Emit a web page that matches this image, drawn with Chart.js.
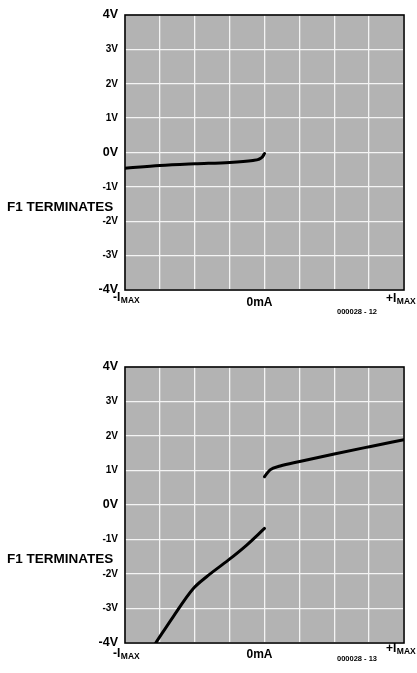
<!DOCTYPE html>
<html>
<head>
<meta charset="utf-8">
<script src="https://cdn.jsdelivr.net/npm/chart.js@4/dist/chart.umd.min.js"></script>
<style>
  html, body { margin: 0; padding: 0; background: #ffffff; }
  canvas { position: absolute; left: 0; }
  #fig12 { top: 0; }
  #fig13 { top: 340px; }
</style>
</head>
<body>
<canvas id="fig12" width="417" height="330"></canvas>
<canvas id="fig13" width="417" height="333"></canvas>
<script>
// Voltage axis ticks (V) and current axis marks (-Imax .. +Imax in eighths)
const voltTicks = [-4, -3, -2, -1, 0, 1, 2, 3, 4];
const currentMarks = [-4, 0, 4];
const currentLabels = ['-I', '0mA', '+I'];
const currentSubs = ['MAX', '', 'MAX'];
const sideTitle = 'F1 TERMINATES';

// Fig. 12: voltage across F1 terminates near 0 mA
const fig12Current = [-4, -3, -2, -1, -0.33, -0.17, -0.07, 0];
const fig12Voltage = [-0.46, -0.38, -0.33, -0.29, -0.23, -0.20, -0.14, -0.03];

// Fig. 13: two branches, negative and positive current
const fig13LowCurrent = [-3.12, -2.62, -2.04, -1.66, -1.04, -0.51, 0];
const fig13LowVoltage = [-4.0, -3.24, -2.42, -2.08, -1.60, -1.16, -0.68];
const fig13HighCurrent = [0, 0.16, 0.45, 1.01, 2.0, 3.01, 4.0];
const fig13HighVoltage = [0.82, 1.02, 1.13, 1.26, 1.48, 1.69, 1.89];

const FONT = "'Liberation Sans', Arial, Helvetica, sans-serif";

function toPoints(xs, ys) {
  return xs.map((x, i) => ({ x: x, y: ys[i] }));
}

// Grey plot field, black frame and the hand-placed captions
const framePlugin = {
  id: 'frame',
  beforeDraw(chart) {
    const a = chart.chartArea, ctx = chart.ctx;
    ctx.save();
    ctx.fillStyle = '#b3b3b3';
    ctx.fillRect(a.left, a.top, a.right - a.left, a.bottom - a.top);
    ctx.restore();
  },
  beforeDatasetsDraw(chart) {
    const a = chart.chartArea, ctx = chart.ctx;
    ctx.save();
    ctx.strokeStyle = '#000000';
    ctx.lineWidth = 1.6;
    ctx.strokeRect(a.left, a.top, a.right - a.left, a.bottom - a.top);
    ctx.restore();
  },
  afterDraw(chart, args, opts) {
    const a = chart.chartArea, ctx = chart.ctx;
    const xs = chart.scales.x;
    ctx.save();
    ctx.fillStyle = '#000000';
    ctx.textBaseline = 'middle';

    // side title
    ctx.font = 'bold 13.5px ' + FONT;
    ctx.textAlign = 'left';
    ctx.fillText(sideTitle, 7, a.bottom + opts.titleDy);

    // current axis captions with subscripts
    currentMarks.forEach((v, i) => {
      const px = xs.getPixelForValue(v) + opts.labelDx[i];
      const py = a.bottom + opts.labelDy[i];
      ctx.font = 'bold 12px ' + FONT;
      if (currentSubs[i]) {
        ctx.textAlign = 'left';
        ctx.fillText(currentLabels[i], px, py);
        const w = ctx.measureText(currentLabels[i]).width;
        ctx.font = 'bold 8.5px ' + FONT;
        ctx.fillText(currentSubs[i], px + w + 0.5, py + 3);
      } else {
        ctx.textAlign = 'center';
        ctx.fillText(currentLabels[i], px, py);
      }
    });

    // figure number
    ctx.font = 'bold 7.5px ' + FONT;
    ctx.textAlign = 'center';
    ctx.fillText(opts.code, 357, a.bottom + opts.codeDy);
    ctx.restore();
  }
};

function makeChart(id, datasets, pad, captions) {
  return new Chart(document.getElementById(id), {
    type: 'line',
    data: { datasets: datasets },
    plugins: [framePlugin],
    options: {
      responsive: false,
      animation: false,
      parsing: false,
      layout: { padding: pad },
      plugins: {
        legend: { display: false },
        tooltip: { enabled: false },
        frame: captions
      },
      elements: {
        point: { radius: 0 },
        line: {
          borderColor: '#000000',
          borderWidth: 3,
          borderCapStyle: 'round',
          borderJoinStyle: 'round',
          cubicInterpolationMode: 'monotone'
        }
      },
      scales: {
        x: {
          type: 'linear',
          min: -4,
          max: 4,
          ticks: { display: false, stepSize: 1 },
          grid: { color: '#f4f4f4', lineWidth: 1.3, drawTicks: false },
          border: { display: false },
          afterFit(scale) { scale.height = 0; }
        },
        y: {
          type: 'linear',
          min: -4,
          max: 4,
          afterBuildTicks(scale) {
            scale.ticks = voltTicks.map(v => ({ value: v }));
          },
          ticks: {
            padding: 7,
            color: '#000000',
            callback: v => v + 'V',
            font: ctx => {
              const v = ctx.tick ? ctx.tick.value : 0;
              const major = (v === 4 || v === -4 || v === 0);
              return { family: FONT, weight: 'bold', size: major ? 12.5 : 10 };
            }
          },
          grid: { color: '#f4f4f4', lineWidth: 1.3, drawTicks: false },
          border: { display: false },
          afterFit(scale) { scale.width = 125; }
        }
      }
    }
  });
}

makeChart('fig12', [
  { data: toPoints(fig12Current, fig12Voltage) }
], { top: 15, right: 13, bottom: 40, left: 0 }, {
  code: '000028 - 12',
  labelDx: [-12, -5, -18],
  labelDy: [8, 13, 9],
  codeDy: 22,
  titleDy: -83
});

makeChart('fig13', [
  { data: toPoints(fig13LowCurrent, fig13LowVoltage) },
  { data: toPoints(fig13HighCurrent, fig13HighVoltage) }
], { top: 27, right: 13, bottom: 30, left: 0 }, {
  code: '000028 - 13',
  labelDx: [-12, -5, -18],
  labelDy: [11, 12, 6],
  codeDy: 16,
  titleDy: -84
});
</script>
</body>
</html>
